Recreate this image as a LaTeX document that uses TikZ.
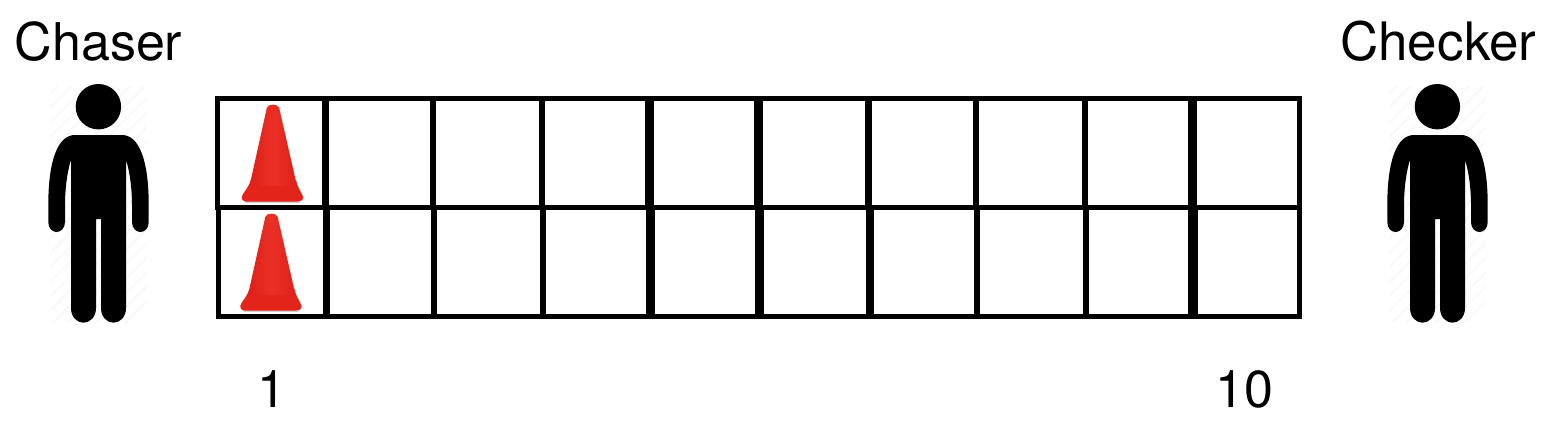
\documentclass[tikz,border=0pt]{standalone}
\usepackage{fontspec}
\setmainfont{TeX Gyre Heros}
\definecolor{conered}{HTML}{E3241B}
\definecolor{conelight}{HTML}{EA3026}
\definecolor{conedark}{HTML}{DE2018}
\definecolor{hatchgrey}{HTML}{F9F9F9}
\tikzset{
  x=1pt,y=-1pt,
  gridbar/.style={fill=black},
  label/.style={inner sep=0pt,anchor=base,font=\fontsize{52}{60}\selectfont,text=black},
  personfig/.pic={
    \begin{scope}
      \clip (50,86) rectangle (147,322);
      \foreach \k in {0,...,24}
        \draw[hatchgrey,line width=2.5pt] (30+14.5*\k-260,330) -- (30+14.5*\k,70);
    \end{scope}
    \fill[black] (98.4,106.7) circle[radius=22.7];
    \fill[black] (75,135)
      .. controls (58,135) and (48.3,160) .. (48.3,205) -- (48.3,222)
      .. controls (48.3,228) and (52,232) .. (56.6,232)
      .. controls (61,232) and (65,228) .. (65,222) -- (65,205)
      .. controls (65,190) and (67,172) .. (71,160) -- (71,308)
      .. controls (71,317) and (77,322.7) .. (83.5,322.7)
      .. controls (90,322.7) and (96,317) .. (96,308) -- (96,219) -- (101,219) -- (101,308)
      .. controls (101,317) and (107,322.7) .. (113.5,322.7)
      .. controls (120,322.7) and (126,317) .. (126,308) -- (126,160)
      .. controls (130,172) and (132,190) .. (132,205) -- (132,222)
      .. controls (132,228) and (136,232) .. (140.4,232)
      .. controls (145,232) and (148.7,228) .. (148.7,222) -- (148.7,205)
      .. controls (148.7,160) and (139,135) .. (122,135) -- cycle;
  },
  conefig/.pic={
    \fill[black!18] (244,200) -- (301,200) -- (300,202.8) -- (245,202.8) -- cycle;
    \fill[conered] (251,180) .. controls (249,186) and (245,191) .. (243,194)
      .. controls (240.5,198) and (242,201) .. (246,201.5)
      -- (298,201.5) .. controls (303,201) and (304,198) .. (302.5,195.5)
      .. controls (300,190) and (297,186) .. (296,180) -- cycle;
    \shade[left color=conedark,right color=conedark,middle color=conelight]
      (266.8,108) .. controls (267.5,103.5) and (278.5,103.5) .. (279.2,108) -- (297,186)
      -- (249.5,186) -- cycle;
  }
}
\begin{document}
\begin{tikzpicture}
\useasboundingbox (0,0) rectangle (1554,434);
% figures
\pic at (0,0) {personfig};
\pic at (1339,0) {personfig};
% cones
\pic at (0,0) {conefig};
\pic at (-1.5,109) {conefig};
% horizontal bars
\fill[gridbar] (215,95.7) rectangle (1302,101);
\fill[gridbar] (215,205) rectangle (1302,210);
\fill[gridbar] (216,314) rectangle (1302,319);
% vertical bars, upper row
\foreach \a/\b in {215/220,322/329,430/436,539.3/545,645/654,754/763,865/872,973/979,1082/1088,1188/1197,1297/1302}
  \fill[gridbar] (\a,100) rectangle (\b,206);
% vertical bars, lower row
\foreach \a/\b in {216/221,323/330,431/437,540/546,646/655,755/764,866/874,974/980,1083/1089,1188/1198,1297/1302}
  \fill[gridbar] (\a,209) rectangle (\b,315);
% labels
\node[label] (chaser) at (98.5,60) {Chaser};
\node[label,font=\fontsize{53}{60}\selectfont] (checker) at (1438.3,60) {Checker};
\node[label] (one) at (272,407) {1};
\node[label] (ten) at (1244.5,407) {10};
\end{tikzpicture}
\end{document}
